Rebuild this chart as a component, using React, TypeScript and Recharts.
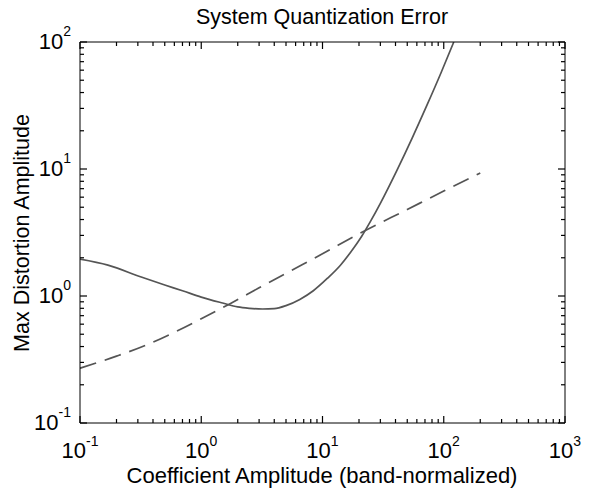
import { LineChart, Line, XAxis, YAxis } from 'recharts'

// solid curve: max distortion vs coefficient amplitude
const solidX = [0.1, 0.17, 0.32, 0.5, 0.7, 1, 1.5, 2, 2.5, 3.2, 4, 5, 6.5, 8.4, 11, 14, 17, 21, 25, 30, 41, 55, 73, 95, 121]
const solidY = [1.95, 1.75, 1.41, 1.22, 1.1, 0.98, 0.88, 0.82, 0.8, 0.79, 0.795, 0.84, 0.94, 1.1, 1.38, 1.74, 2.2, 2.94, 3.9, 5.37, 9.72, 17.6, 32.1, 57.3, 100]

// dashed curve
const dashedX = [0.1, 0.2, 0.35, 0.6, 1, 1.7, 3, 5, 10, 20, 50, 100, 200]
const dashedY = [0.27, 0.336, 0.41, 0.518, 0.662, 0.863, 1.16, 1.51, 2.15, 3.09, 4.8, 6.7, 9.3]

const xDecades = [0.1, 1, 10, 100, 1000]
const yDecades = [0.1, 1, 10, 100]

const solidData = solidX.map((x, i) => ({ x, y: solidY[i] }))
const dashedData = dashedX.map((x, i) => ({ x, y: dashedY[i] }))

// decade ticks plus the 2..9 minor ticks between them
const withMinors = (dec: number[]) => {
  const out: number[] = []
  dec.forEach((d, i) => {
    out.push(d)
    if (i < dec.length - 1) for (let k = 2; k <= 9; k++) out.push(+(d * k).toPrecision(6))
  })
  return out
}
const xTicks = withMinors(xDecades)
const yTicks = withMinors(yDecades)

const FONT = '"Liberation Sans", Arial, Helvetica, sans-serif'
const LINE = '#555'

const expOf = (v: number) => Math.round(Math.log10(v))
const isMajor = (v: number) => Math.abs(Math.log10(v) - expOf(v)) < 1e-6

function XTick(props: any) {
  const { x, y, payload, side } = props
  const v = payload.value
  const major = isMajor(v)
  const len = major ? 7 : 4
  const dir = side === 'bottom' ? -1 : 1
  return (
    <g>
      <path d={`M${x},${y}V${y + dir * len}`} stroke="#000" strokeWidth={1.2} fill="none" />
      {major && side === 'bottom' && (
        <text x={x} y={y + 35} textAnchor="middle" fontSize={22} fontFamily={FONT} fill="#000">
          10<tspan dy={-12} fontSize={14}>{expOf(v)}</tspan>
        </text>
      )}
    </g>
  )
}

function YTick(props: any) {
  const { x, y, payload, side } = props
  const v = payload.value
  const major = isMajor(v)
  const len = major ? 7 : 4
  const dir = side === 'left' ? 1 : -1
  return (
    <g>
      <path d={`M${x},${y}H${x + dir * len}`} stroke="#000" strokeWidth={1.2} fill="none" />
      {major && side === 'left' && (
        <text x={x - 9} y={y + 7} textAnchor="end" fontSize={22} fontFamily={FONT} fill="#000">
          10<tspan dy={-13} fontSize={14}>{expOf(v)}</tspan>
        </text>
      )}
    </g>
  )
}

export default function App() {
  return (
    <div style={{ position: 'absolute', left: 0, top: 0, width: 595, height: 490, background: '#fff' }}>
      <LineChart width={595} height={490} margin={{ top: 41, right: 29, bottom: 66, left: 79 }}>
        <XAxis xAxisId="b" dataKey="x" type="number" scale="log" domain={[0.1, 1000]} allowDataOverflow
          ticks={xTicks} interval={0} height={1} tickSize={0} tickMargin={0}
          axisLine={{ stroke: '#000' }} tickLine={false} tick={<XTick side="bottom" />} />
        <XAxis xAxisId="t" orientation="top" dataKey="x" type="number" scale="log" domain={[0.1, 1000]} allowDataOverflow
          ticks={xTicks} interval={0} height={1} tickSize={0} tickMargin={0}
          axisLine={{ stroke: '#000' }} tickLine={false} tick={<XTick side="top" />} />
        <YAxis yAxisId="l" dataKey="y" type="number" scale="log" domain={[0.1, 100]} allowDataOverflow
          ticks={yTicks} interval={0} width={1} tickSize={0} tickMargin={0}
          axisLine={{ stroke: '#000' }} tickLine={false} tick={<YTick side="left" />} />
        <YAxis yAxisId="r" orientation="right" dataKey="y" type="number" scale="log" domain={[0.1, 100]} allowDataOverflow
          ticks={yTicks} interval={0} width={1} tickSize={0} tickMargin={0}
          axisLine={{ stroke: '#000' }} tickLine={false} tick={<YTick side="right" />} />

        <Line xAxisId="b" yAxisId="l" data={solidData} dataKey="y" type="monotone" stroke={LINE}
          strokeWidth={1.7} dot={false} isAnimationActive={false} />
        <Line xAxisId="b" yAxisId="l" data={dashedData} dataKey="y" type="monotone" stroke={LINE}
          strokeWidth={1.7} strokeDasharray="17 9" dot={false} isAnimationActive={false} />
        <Line xAxisId="t" yAxisId="r" data={dashedData} dataKey="y" stroke="none" dot={false}
          isAnimationActive={false} />

        <text x={322} y={24} textAnchor="middle" fontSize={21.5} fontFamily={FONT} fill="#000">
          System Quantization Error
        </text>
        <text x={322} y={483} textAnchor="middle" fontSize={22} fontFamily={FONT} fill="#000">
          Coefficient Amplitude (band-normalized)
        </text>
        <text transform="translate(29, 233) rotate(-90)" textAnchor="middle" fontSize={21.5} fontFamily={FONT} fill="#000">
          Max Distortion Amplitude
        </text>
      </LineChart>
    </div>
  )
}
